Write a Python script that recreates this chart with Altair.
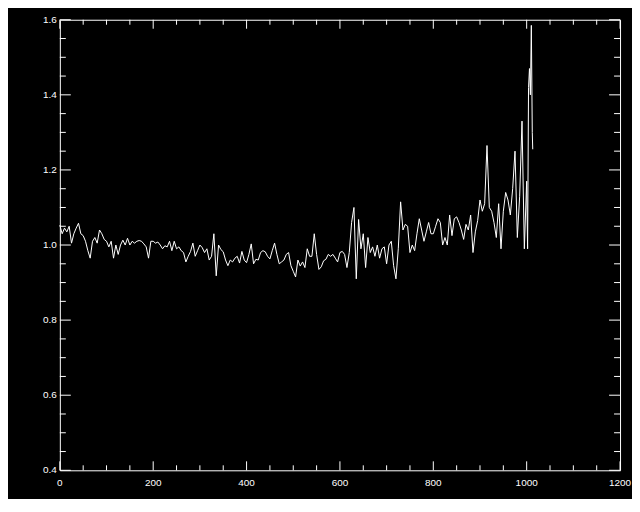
import altair as alt
import pandas as pd

# ---- data ----
x_vals = [
    0, 5, 10, 15, 20, 25, 30, 35, 40, 45, 50, 55, 60, 65, 70, 75, 80, 85, 90, 95,
    100, 105, 110, 115, 120, 125, 130, 135, 140, 145, 150, 155, 160, 165, 170, 175, 180, 185, 190, 195,
    200, 205, 210, 215, 220, 225, 230, 235, 240, 245, 250, 255, 260, 265, 270, 275, 280, 285, 290, 295,
    300, 305, 310, 315, 320, 325, 330, 335, 340, 345, 350, 355, 360, 365, 370, 375, 380, 385, 390, 395,
    400, 405, 410, 415, 420, 425, 430, 435, 440, 445, 450, 455, 460, 465, 470, 475, 480, 485, 490, 495,
    500, 505, 510, 515, 520, 525, 530, 535, 540, 545, 550, 555, 560, 565, 570, 575, 580, 585, 590, 595,
    600, 605, 610, 615, 620, 625, 630, 635, 640, 645, 650, 655, 660, 665, 670, 675, 680, 685, 690, 695,
    700, 705, 710, 715, 720, 725, 730, 735, 740, 745, 750, 755, 760, 765, 770, 775, 780, 785, 790, 795,
    800, 805, 810, 815, 820, 825, 830, 835, 840, 845, 850, 855, 860, 865, 870, 875, 880, 885, 890, 895,
    900, 905, 910, 915, 920, 925, 930, 935, 940, 945, 950, 955, 960, 965, 970, 975, 980, 985, 990, 995,
    1000, 1002, 1004, 1006, 1008, 1010, 1012, 1013,
]
y_vals = [
    1.053, 1.030, 1.045, 1.035, 1.050, 1.005, 1.030, 1.045, 1.058, 1.030,
    1.025, 1.010, 0.985, 0.965, 1.010, 1.020, 1.005, 1.040, 1.030, 1.015,
    1.010, 0.995, 1.010, 0.965, 1.000, 0.975, 1.000, 1.013, 1.000, 1.018,
    1.000, 1.010, 1.005, 1.010, 1.012, 1.010, 1.003, 0.995, 0.965, 1.010,
    1.010, 1.005, 1.008, 1.000, 0.990, 0.998, 0.995, 1.010, 0.985, 1.010,
    0.990, 0.995, 0.985, 0.980, 0.955, 0.970, 0.983, 1.005, 0.970, 0.985,
    1.000, 0.993, 0.980, 0.990, 0.960, 0.970, 1.030, 0.918, 1.000, 0.988,
    0.982, 0.960, 0.945, 0.960, 0.955, 0.965, 0.970, 0.952, 0.983, 0.960,
    0.953, 0.975, 1.003, 0.950, 0.962, 0.960, 0.980, 0.985, 0.982, 0.970,
    0.963, 0.985, 1.005, 0.975, 0.950, 0.955, 0.960, 0.975, 0.980, 0.945,
    0.930, 0.915, 0.960, 0.944, 0.955, 0.940, 0.990, 0.970, 0.970, 1.030,
    0.975, 0.935, 0.942, 0.958, 0.962, 0.975, 0.970, 0.975, 0.965, 0.955,
    0.980, 0.983, 0.975, 0.940, 0.980, 1.060, 1.100, 0.910, 1.068, 0.990,
    1.030, 0.940, 1.020, 0.980, 0.995, 0.970, 1.000, 0.965, 0.990, 0.995,
    0.950, 1.000, 1.010, 0.945, 0.910, 0.990, 1.115, 1.040, 1.055, 1.050,
    0.980, 1.000, 0.985, 1.030, 1.070, 1.040, 1.010, 1.035, 1.060, 1.030,
    1.030, 1.050, 1.070, 1.060, 1.000, 1.020, 1.000, 1.080, 1.025, 1.070,
    1.075, 1.060, 1.040, 1.015, 1.055, 1.040, 1.080, 0.980, 1.035, 1.065,
    1.120, 1.090, 1.110, 1.265, 1.100, 1.090, 1.060, 1.020, 1.110, 0.990,
    1.090, 1.140, 1.120, 1.080, 1.150, 1.250, 1.020, 1.130, 1.330, 0.990,
    1.170, 0.990, 1.420, 1.470, 1.400, 1.585, 1.300, 1.255,
]

x_major = [0, 200, 400, 600, 800, 1000, 1200]
x_labels = ["0", "200", "400", "600", "800", "1000", "1200"]
x_minor = [50, 100, 150, 250, 300, 350, 450, 500, 550, 650, 700, 750,
           850, 900, 950, 1050, 1100, 1150]
y_major = [0.4, 0.6, 0.8, 1.0, 1.2, 1.4, 1.6]
y_labels = ["0.4", "0.6", "0.8", "1.0", "1.2", "1.4", "1.6"]
y_minor = [0.45, 0.5, 0.55, 0.65, 0.7, 0.75, 0.85, 0.9, 0.95,
           1.05, 1.1, 1.15, 1.25, 1.3, 1.35, 1.45, 1.5, 1.55]

W, H = 562, 452
FONT = "Liberation Sans"

xs = alt.Scale(domain=[0, 1200], nice=False, zero=False)
ys = alt.Scale(domain=[0.4, 1.6], nice=False, zero=False)

df = pd.DataFrame({"x": x_vals, "y": y_vals})

hidden_axis = alt.Axis(labels=False, ticks=False, domain=False, grid=False, title=None)

line = alt.Chart(df).mark_line(color="white", strokeWidth=1).encode(
    x=alt.X("x:Q", scale=xs, axis=hidden_axis),
    y=alt.Y("y:Q", scale=ys, axis=hidden_axis),
)


def xticks(vals, length, top):
    d = pd.DataFrame({"v": vals})
    return alt.Chart(d).mark_rule(color="white", strokeWidth=1).encode(
        x=alt.X("v:Q", scale=xs, axis=None),
        y=alt.value(0 if top else H),
        y2=alt.value(length if top else H - length),
    )


def yticks(vals, length, right):
    d = pd.DataFrame({"v": vals})
    return alt.Chart(d).mark_rule(color="white", strokeWidth=1).encode(
        y=alt.Y("v:Q", scale=ys, axis=None),
        x=alt.value(W if right else 0),
        x2=alt.value(W - length if right else length),
    )


xlab = alt.Chart(pd.DataFrame({"v": x_major, "t": x_labels})).mark_text(
    color="white", font=FONT, fontSize=10, align="center", baseline="middle"
).encode(
    x=alt.X("v:Q", scale=xs, axis=None),
    y=alt.value(H + 13),
    text="t:N",
)

ylab = alt.Chart(pd.DataFrame({"v": y_major, "t": y_labels})).mark_text(
    color="white", font=FONT, fontSize=10, align="right", baseline="middle"
).encode(
    y=alt.Y("v:Q", scale=ys, axis=None),
    x=alt.value(-3),
    text="t:N",
)

layers = [
    line,
    xlab, ylab,
    xticks(x_major, 9, False), xticks(x_minor, 5, False),
    xticks(x_major, 9, True), xticks(x_minor, 5, True),
    yticks(y_major, 11, False), yticks(y_minor, 6, False),
    yticks(y_major, 11, True), yticks(y_minor, 6, True),
]

chart = alt.layer(*layers).properties(
    width=W, height=H,
    autosize="none",
    padding={"left": 52, "top": 11, "right": 12, "bottom": 28},
    background="black",
    usermeta={"embedOptions": {
        "defaultStyle": "html,body{background:#000;} .vega-embed{display:inline-block;position:relative;}"
    }},
).configure_view(stroke="white", strokeWidth=1)

chart.save("out.html", embed_options={"renderer": "svg", "actions": False})
